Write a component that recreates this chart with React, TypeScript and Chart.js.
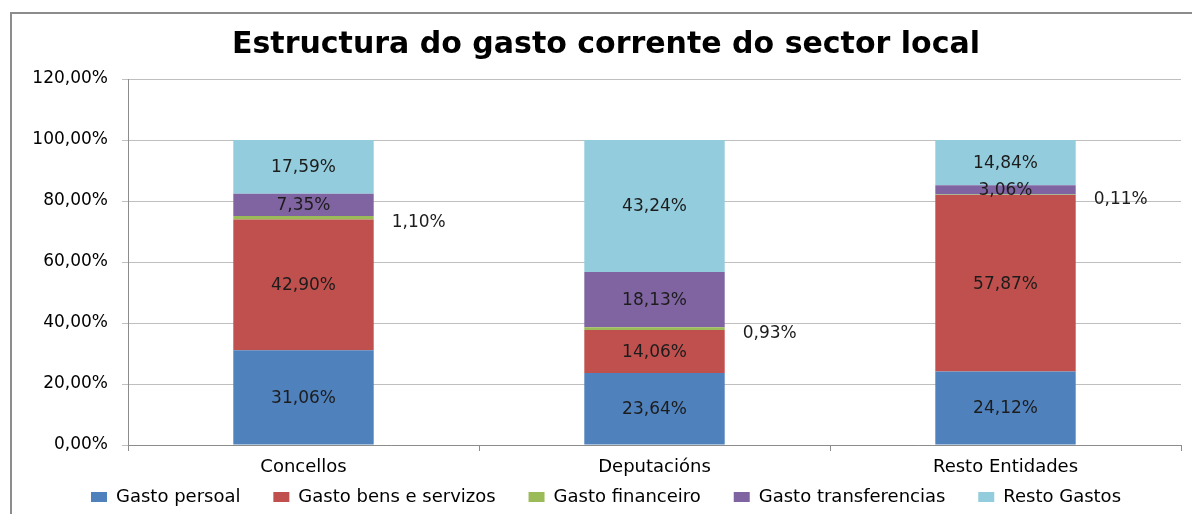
import React, { useEffect, useRef } from "react";
import { Chart, registerables } from "chart.js";

Chart.register(...registerables);

const categories = ["Concellos", "Deputacións", "Resto Entidades"];
const seriesNames = [
  "Gasto persoal",
  "Gasto bens e servizos",
  "Gasto financeiro",
  "Gasto transferencias",
  "Resto Gastos",
];
const gastoPersoal = [31.06, 23.64, 24.12];
const gastoBens = [42.9, 14.06, 57.87];
const gastoFinanceiro = [1.1, 0.93, 0.11];
const gastoTransferencias = [7.35, 18.13, 3.06];
const restoGastos = [17.59, 43.24, 14.84];
const seriesColors = ["#4F81BD", "#C0504D", "#9BBB59", "#8064A2", "#93CDDD"];
const titleText = "Estructura do gasto corrente do sector local";
const yMin = 0;
const yMax = 120;
const yStep = 20;
const outsideLabelSeries = 2; // Gasto financeiro labels sit to the right of the bar

const FONT = "'DejaVu Sans', 'Open Sans', sans-serif";
const LEGEND_GAP = "    ";

const fmt = (v: number) => v.toFixed(2).replace(".", ",") + "%";

const dataLabelPlugin = {
  id: "dataLabels",
  afterDatasetsDraw(chart: any) {
    const ctx = chart.ctx;
    ctx.save();
    ctx.font = `17px ${FONT}`;
    ctx.fillStyle = "#1c1c1c";
    ctx.textBaseline = "middle";
    chart.data.datasets.forEach((ds: any, di: number) => {
      const meta = chart.getDatasetMeta(di);
      meta.data.forEach((el: any, i: number) => {
        const p = el.getProps(["x", "y", "base", "width"], true);
        const cy = (p.y + p.base) / 2;
        const txt = fmt(ds.data[i]);
        if (di === outsideLabelSeries) {
          ctx.textAlign = "left";
          ctx.fillText(txt, p.x + p.width / 2 + 18, cy + 5);
        } else {
          ctx.textAlign = "center";
          ctx.fillText(txt, p.x, cy + 1);
        }
      });
    });
    ctx.restore();
  },
};

export default function App() {
  const canvasRef = useRef<HTMLCanvasElement | null>(null);

  useEffect(() => {
    const canvas = canvasRef.current;
    if (!canvas) return;
    const seriesValues = [gastoPersoal, gastoBens, gastoFinanceiro, gastoTransferencias, restoGastos];
    const chart = new Chart(canvas, {
      type: "bar",
      data: {
        labels: categories,
        datasets: seriesNames.map((name, i) => ({
          label: name,
          data: seriesValues[i],
          backgroundColor: seriesColors[i],
          borderWidth: 0,
          barPercentage: 0.4,
          categoryPercentage: 1,
        })),
      },
      options: {
        responsive: false,
        animation: false,
        devicePixelRatio: 1,
        layout: { padding: { left: 31, right: 11, top: 0, bottom: -2 } },
        plugins: {
          tooltip: { enabled: false },
          title: {
            display: true,
            text: titleText,
            color: "#000",
            font: { family: FONT, size: 30, weight: "bold" },
            padding: { top: 27, bottom: 16 },
          },
          legend: {
            position: "bottom",
            labels: {
              color: "#000",
              font: { family: FONT, size: 18 },
              boxWidth: 16,
              boxHeight: 10,
              padding: 10,
              generateLabels: (chart: any) => {
                const items = Chart.defaults.plugins.legend.labels.generateLabels(chart);
                return items.map((it: any, i: number) => ({
                  ...it,
                  text: i < items.length - 1 ? it.text + LEGEND_GAP : it.text,
                }));
              },
            },
          },
        },
        scales: {
          x: {
            stacked: true,
            grid: {
              display: true,
              drawOnChartArea: false,
              drawTicks: true,
              tickLength: 6,
              color: "#8c8c8c",
              offset: true,
            },
            border: { display: true, color: "#8c8c8c" },
            ticks: {
              color: "#000",
              font: { family: FONT, size: 18 },
              padding: 6,
            },
            afterFit: (scale: any) => {
              scale.height = 33;
            },
          },
          y: {
            stacked: true,
            min: yMin,
            max: yMax,
            grid: {
              color: "#bfbfbf",
              tickLength: 6,
              drawTicks: true,
            },
            border: { display: true, color: "#8c8c8c" },
            ticks: {
              stepSize: yStep,
              color: "#000",
              font: { family: FONT, size: 17 },
              padding: 14,
              callback: (v: any) => fmt(Number(v)),
            },
            afterFit: (scale: any) => {
              scale.width = 97;
            },
          },
        },
      },
      plugins: [dataLabelPlugin],
    } as any);
    return () => chart.destroy();
  }, []);

  return (
    <div
      style={{
        position: "fixed",
        left: 0,
        top: 0,
        width: 1192,
        height: 514,
        overflow: "hidden",
        background: "#fff",
      }}
    >
      <div
        style={{
          position: "absolute",
          left: 10,
          top: 12,
          width: 1300,
          height: 700,
          border: "2px solid #8c8c8c",
          boxSizing: "border-box",
        }}
      />
      <canvas
        ref={canvasRef}
        width={1192}
        height={514}
        style={{ position: "absolute", left: 0, top: 0, width: 1192, height: 514 }}
      />
    </div>
  );
}
